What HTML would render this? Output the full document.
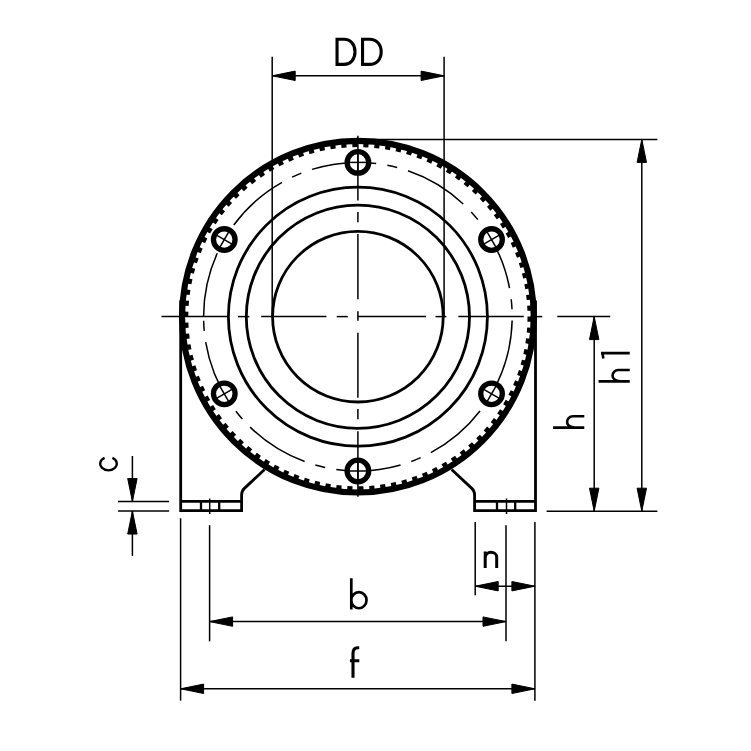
<!DOCTYPE html>
<html><head><meta charset="utf-8"><title>drawing</title>
<style>html,body{margin:0;padding:0;background:#fff;}svg{display:block;}</style>
</head><body>
<svg width="751" height="751" viewBox="0 0 751 751">
<rect width="751" height="751" fill="#fff"/>
<g stroke="#000" fill="#000">
<circle cx="357.9" cy="316.7" r="175.85" fill="none" stroke-width="6.1"/>
<path stroke="none" d="M352.26,143.39 L357.49,143.3 L357.5,147.1 L352.39,147.19ZM363.38,143.39 L368.6,143.63 L368.36,147.42 L363.26,147.18ZM374.47,144.09 L379.66,144.67 L379.19,148.44 L374.11,147.88ZM385.5,145.51 L390.64,146.42 L389.92,150.15 L384.89,149.26ZM396.41,147.63 L401.48,148.87 L400.53,152.54 L395.56,151.33ZM407.16,150.44 L412.15,152 L410.96,155.61 L406.08,154.09ZM417.71,153.94 L422.59,155.82 L421.17,159.34 L416.4,157.51ZM428.02,158.11 L432.76,160.29 L431.12,163.72 L426.48,161.58ZM438.03,162.93 L442.63,165.41 L440.77,168.73 L436.28,166.3ZM447.72,168.38 L452.15,171.15 L450.08,174.34 L445.75,171.63ZM457.04,174.44 L461.28,177.49 L459.01,180.54 L454.87,177.55ZM465.95,181.08 L469.99,184.4 L467.53,187.3 L463.58,184.05ZM474.42,188.28 L478.23,191.85 L475.6,194.59 L471.86,191.1ZM482.41,196.01 L485.99,199.82 L483.18,202.38 L479.68,198.66ZM489.88,204.24 L493.21,208.26 L490.25,210.64 L486.99,206.7ZM496.82,212.92 L499.88,217.16 L496.77,219.34 L493.77,215.2ZM503.18,222.04 L505.97,226.46 L502.72,228.43 L500,224.11ZM508.95,231.54 L511.44,236.13 L508.08,237.89 L505.64,233.41ZM514.09,241.39 L516.29,246.13 L512.82,247.68 L510.67,243.04ZM518.6,251.55 L520.49,256.43 L516.92,257.75 L515.08,252.98ZM522.44,261.98 L524.01,266.97 L520.37,268.06 L518.84,263.18ZM525.61,272.64 L526.86,277.71 L523.16,278.57 L521.93,273.6ZM528.09,283.47 L529.01,288.62 L525.26,289.23 L524.36,284.2ZM529.87,294.45 L530.46,299.64 L526.68,300.01 L526.1,294.93ZM530.94,305.51 L531.2,310.73 L527.4,310.86 L527.15,305.76ZM531.3,316.62 L531.22,321.84 L527.43,321.73 L527.5,316.62ZM530.95,327.73 L530.54,332.94 L526.75,332.58 L527.16,327.49ZM529.89,338.79 L529.14,343.97 L525.39,343.37 L526.12,338.31ZM528.12,349.77 L527.04,354.88 L523.34,354.04 L524.39,349.04ZM525.65,360.61 L524.25,365.64 L520.6,364.57 L521.97,359.64ZM522.49,371.26 L520.77,376.2 L517.2,374.89 L518.88,370.07ZM518.66,381.7 L516.63,386.51 L513.15,384.98 L515.13,380.27ZM514.16,391.86 L511.83,396.54 L508.45,394.79 L510.74,390.22ZM509.03,401.72 L506.4,406.24 L503.14,404.27 L505.71,399.86ZM503.27,411.23 L500.35,415.57 L497.23,413.4 L500.08,409.16ZM496.91,420.35 L493.73,424.49 L490.75,422.13 L493.87,418.08ZM489.99,429.04 L486.54,432.97 L483.72,430.42 L487.09,426.58ZM482.52,437.27 L478.83,440.97 L476.18,438.25 L479.79,434.63ZM474.54,445.01 L470.62,448.47 L468.15,445.58 L471.98,442.2ZM466.08,452.22 L461.94,455.42 L459.66,452.38 L463.71,449.25ZM457.17,458.87 L452.84,461.8 L450.76,458.62 L455,455.76ZM447.86,464.94 L443.35,467.58 L441.48,464.28 L445.89,461.69ZM438.18,470.4 L433.51,472.75 L431.85,469.33 L436.42,467.03ZM428.16,475.23 L423.35,477.27 L421.92,473.75 L426.62,471.75ZM417.86,479.4 L412.93,481.14 L411.73,477.53 L416.55,475.84ZM407.31,482.91 L402.28,484.32 L401.31,480.65 L406.23,479.27ZM396.56,485.73 L391.45,486.82 L390.72,483.09 L395.72,482.03ZM385.65,487.86 L380.48,488.62 L379.99,484.86 L385.05,484.11ZM374.63,489.29 L369.42,489.72 L369.17,485.93 L374.26,485.51ZM363.54,490.01 L358.31,490.1 L358.3,486.3 L363.41,486.21ZM352.42,490.01 L347.2,489.77 L347.44,485.98 L352.54,486.22ZM341.33,489.31 L336.14,488.73 L336.61,484.96 L341.69,485.52ZM330.3,487.89 L325.16,486.98 L325.88,483.25 L330.91,484.14ZM319.39,485.77 L314.32,484.53 L315.27,480.86 L320.24,482.07ZM308.64,482.96 L303.65,481.4 L304.84,477.79 L309.72,479.31ZM298.09,479.46 L293.21,477.58 L294.63,474.06 L299.4,475.89ZM287.78,475.29 L283.04,473.11 L284.68,469.68 L289.32,471.82ZM277.77,470.47 L273.17,467.99 L275.03,464.67 L279.52,467.1ZM268.08,465.02 L263.65,462.25 L265.72,459.06 L270.05,461.77ZM258.76,458.96 L254.52,455.91 L256.79,452.86 L260.93,455.85ZM249.85,452.32 L245.81,449 L248.27,446.1 L252.22,449.35ZM241.38,445.12 L237.57,441.55 L240.2,438.81 L243.94,442.3ZM233.39,437.39 L229.81,433.58 L232.62,431.02 L236.12,434.74ZM225.92,429.16 L222.59,425.14 L225.55,422.76 L228.81,426.7ZM218.98,420.48 L215.92,416.24 L219.03,414.06 L222.03,418.2ZM212.62,411.36 L209.83,406.94 L213.08,404.97 L215.8,409.29ZM206.85,401.86 L204.36,397.27 L207.72,395.51 L210.16,399.99ZM201.71,392.01 L199.51,387.27 L202.98,385.72 L205.13,390.36ZM197.2,381.85 L195.31,376.97 L198.88,375.65 L200.72,380.42ZM193.36,371.42 L191.79,366.43 L195.43,365.34 L196.96,370.22ZM190.19,360.76 L188.94,355.69 L192.64,354.83 L193.87,359.8ZM187.71,349.93 L186.79,344.78 L190.54,344.17 L191.44,349.2ZM185.93,338.95 L185.34,333.76 L189.12,333.39 L189.7,338.47ZM184.86,327.89 L184.6,322.67 L188.4,322.54 L188.65,327.64ZM184.5,316.78 L184.58,311.56 L188.37,311.67 L188.3,316.78ZM184.85,305.67 L185.26,300.46 L189.05,300.82 L188.64,305.91ZM185.91,294.61 L186.66,289.43 L190.41,290.03 L189.68,295.09ZM187.68,283.63 L188.76,278.52 L192.46,279.36 L191.41,284.36ZM190.15,272.79 L191.55,267.76 L195.2,268.83 L193.83,273.76ZM193.31,262.14 L195.03,257.2 L198.6,258.51 L196.92,263.33ZM197.14,251.7 L199.17,246.89 L202.65,248.42 L200.67,253.13ZM201.64,241.54 L203.97,236.86 L207.35,238.61 L205.06,243.18ZM206.77,231.68 L209.4,227.16 L212.66,229.13 L210.09,233.54ZM212.53,222.17 L215.45,217.83 L218.57,220 L215.72,224.24ZM218.89,213.05 L222.07,208.91 L225.05,211.27 L221.93,215.32ZM225.81,204.36 L229.26,200.43 L232.08,202.98 L228.71,206.82ZM233.28,196.13 L236.97,192.43 L239.62,195.15 L236.01,198.77ZM241.26,188.39 L245.18,184.93 L247.65,187.82 L243.82,191.2ZM249.72,181.18 L253.86,177.98 L256.14,181.02 L252.09,184.15ZM258.63,174.53 L262.96,171.6 L265.04,174.78 L260.8,177.64ZM267.94,168.46 L272.45,165.82 L274.32,169.12 L269.91,171.71ZM277.62,163 L282.29,160.65 L283.95,164.07 L279.38,166.37ZM287.64,158.17 L292.45,156.13 L293.88,159.65 L289.18,161.65ZM297.94,154 L302.87,152.26 L304.07,155.87 L299.25,157.56ZM308.49,150.49 L313.52,149.08 L314.49,152.75 L309.57,154.13ZM319.24,147.67 L324.35,146.58 L325.08,150.31 L320.08,151.37ZM330.15,145.54 L335.32,144.78 L335.81,148.54 L330.75,149.29ZM341.17,144.11 L346.38,143.68 L346.63,147.47 L341.54,147.89Z"/>
<circle cx="357.9" cy="316.7" r="129.5" fill="none" stroke-width="2.8"/>
<circle cx="357.9" cy="316.7" r="111.6" fill="none" stroke-width="2.8"/>
<circle cx="357.9" cy="316.7" r="85.3" fill="none" stroke-width="2.8"/>
<path fill="none" stroke-width="1.5" d="M203.6,316.16 A154.3,154.3 0 0 1 217.27,253.2 M222.3,243.07 A154.3,154.3 0 0 1 227.4,234.36 M233.78,225.03 A154.3,154.3 0 0 1 282.04,182.34 M292.08,177.14 A154.3,154.3 0 0 1 301.35,173.14 M312.02,169.38 A154.3,154.3 0 0 1 376.17,163.49 M387.34,165.23 A154.3,154.3 0 0 1 397.19,167.48 M408.01,170.76 A154.3,154.3 0 0 1 463.23,203.94 M471.21,211.96 A154.3,154.3 0 0 1 477.81,219.6 M484.6,228.64 A154.3,154.3 0 0 1 509.52,288.05 M511.21,299.23 A154.3,154.3 0 0 1 512.02,309.3 M512.15,320.6 A154.3,154.3 0 0 1 497.11,383.25 M491.86,393.27 A154.3,154.3 0 0 1 486.57,401.86 M479.99,411.06 A154.3,154.3 0 0 1 430.81,452.69 M420.66,457.66 A154.3,154.3 0 0 1 411.31,461.46 M400.56,464.99 A154.3,154.3 0 0 1 336.29,469.48 M325.16,467.49 A154.3,154.3 0 0 1 315.37,465.02 M304.62,461.51 A154.3,154.3 0 0 1 250.13,427.13 M242.34,418.94 A154.3,154.3 0 0 1 235.9,411.17 M229.31,401.98 A154.3,154.3 0 0 1 205.69,342.03 M204.25,330.82 A154.3,154.3 0 0 1 203.65,320.74"/>
<circle cx="357.9" cy="162.4" r="10.8" fill="#fff" stroke-width="5.3"/>
<line x1="357.9" y1="171.9" x2="357.9" y2="152.9" stroke-width="1.5"/>
<line x1="348.4" y1="162.4" x2="367.4" y2="162.4" stroke-width="1.5"/>
<circle cx="491.53" cy="239.55" r="10.8" fill="#fff" stroke-width="5.3"/>
<line x1="483.3" y1="244.3" x2="499.75" y2="234.8" stroke-width="1.5"/>
<line x1="486.78" y1="231.32" x2="496.28" y2="247.78" stroke-width="1.5"/>
<circle cx="491.53" cy="393.85" r="10.8" fill="#fff" stroke-width="5.3"/>
<line x1="483.3" y1="389.1" x2="499.75" y2="398.6" stroke-width="1.5"/>
<line x1="496.28" y1="385.62" x2="486.78" y2="402.08" stroke-width="1.5"/>
<circle cx="357.9" cy="471" r="10.8" fill="#fff" stroke-width="5.3"/>
<line x1="357.9" y1="461.5" x2="357.9" y2="480.5" stroke-width="1.5"/>
<line x1="367.4" y1="471" x2="348.4" y2="471" stroke-width="1.5"/>
<circle cx="224.27" cy="393.85" r="10.8" fill="#fff" stroke-width="5.3"/>
<line x1="232.5" y1="389.1" x2="216.05" y2="398.6" stroke-width="1.5"/>
<line x1="229.02" y1="402.08" x2="219.52" y2="385.62" stroke-width="1.5"/>
<circle cx="224.27" cy="239.55" r="10.8" fill="#fff" stroke-width="5.3"/>
<line x1="232.5" y1="244.3" x2="216.05" y2="234.8" stroke-width="1.5"/>
<line x1="219.52" y1="247.78" x2="229.02" y2="231.32" stroke-width="1.5"/>
<line x1="161.5" y1="316.6" x2="228" y2="316.6" stroke-width="1.5"/>
<line x1="238" y1="316.6" x2="249.3" y2="316.6" stroke-width="1.5"/>
<line x1="261.2" y1="316.6" x2="326.4" y2="316.6" stroke-width="1.5"/>
<line x1="336.7" y1="316.6" x2="347.8" y2="316.6" stroke-width="1.5"/>
<line x1="357.7" y1="316.6" x2="426" y2="316.6" stroke-width="1.5"/>
<line x1="435.5" y1="316.6" x2="446.4" y2="316.6" stroke-width="1.5"/>
<line x1="458.4" y1="316.6" x2="523.8" y2="316.6" stroke-width="1.5"/>
<line x1="530.5" y1="316.6" x2="542.3" y2="316.6" stroke-width="1.5"/>
<line x1="357.9" y1="135.7" x2="357.9" y2="200.4" stroke-width="1.5"/>
<line x1="357.9" y1="212" x2="357.9" y2="222.3" stroke-width="1.5"/>
<line x1="357.9" y1="233.9" x2="357.9" y2="299.2" stroke-width="1.5"/>
<line x1="357.9" y1="311.2" x2="357.9" y2="320.7" stroke-width="1.5"/>
<line x1="357.9" y1="332.8" x2="357.9" y2="397.8" stroke-width="1.5"/>
<line x1="357.9" y1="409" x2="357.9" y2="419.3" stroke-width="1.5"/>
<line x1="357.9" y1="431.3" x2="357.9" y2="496.8" stroke-width="1.5"/>
<path fill="none" stroke-width="2.8" stroke-linejoin="miter" d="M180.7,300.5 V510.6 H241.6 V495 Q241.6,491 244.4,488.4 L264.6,469.4"/>
<line x1="180.7" y1="501.3" x2="241.6" y2="501.3" stroke-width="2.8"/>
<line x1="201" y1="501.3" x2="201" y2="510.6" stroke-width="2.3"/>
<line x1="219.2" y1="501.3" x2="219.2" y2="510.6" stroke-width="2.3"/>
<line x1="209.7" y1="498.5" x2="209.7" y2="514" stroke-width="1.5"/>
<path fill="none" stroke-width="2.8" stroke-linejoin="miter" d="M535.5,300.5 V510.6 H474.6 V495 Q474.6,491 471.8,488.4 L451.6,469.4"/>
<line x1="535.5" y1="501.3" x2="474.6" y2="501.3" stroke-width="2.8"/>
<line x1="515.2" y1="501.3" x2="515.2" y2="510.6" stroke-width="2.3"/>
<line x1="497" y1="501.3" x2="497" y2="510.6" stroke-width="2.3"/>
<line x1="506.5" y1="498.5" x2="506.5" y2="514" stroke-width="1.5"/>
<line x1="272.2" y1="56.8" x2="272.2" y2="316.6" stroke-width="1.5"/>
<line x1="444.1" y1="56.8" x2="444.1" y2="316.6" stroke-width="1.5"/>
<line x1="272.2" y1="75.8" x2="444.1" y2="75.8" stroke-width="1.5"/>
<polygon points="272.2,75.8 295.2,71.1 295.2,80.5"/>
<polygon points="444.1,75.8 421.1,80.5 421.1,71.1"/>
<line x1="358" y1="139.4" x2="657.4" y2="139.4" stroke-width="1.5"/>
<line x1="546.6" y1="511.2" x2="657.4" y2="511.2" stroke-width="1.5"/>
<line x1="641.8" y1="139.4" x2="641.8" y2="511.2" stroke-width="1.5"/>
<polygon points="641.8,139.4 646.5,162.4 637.1,162.4"/>
<polygon points="641.8,511.2 637.1,488.2 646.5,488.2"/>
<line x1="557.3" y1="316.6" x2="610.2" y2="316.6" stroke-width="1.5"/>
<line x1="594.2" y1="316.6" x2="594.2" y2="511.2" stroke-width="1.5"/>
<polygon points="594.2,316.6 598.9,339.6 589.5,339.6"/>
<polygon points="594.2,511.2 589.5,488.2 598.9,488.2"/>
<line x1="118" y1="501.5" x2="169.1" y2="501.5" stroke-width="1.5"/>
<line x1="118" y1="511.05" x2="169.1" y2="511.05" stroke-width="1.5"/>
<line x1="132.4" y1="456" x2="132.4" y2="501.5" stroke-width="1.5"/>
<line x1="132.4" y1="511.05" x2="132.4" y2="555.9" stroke-width="1.5"/>
<polygon points="132.4,501.5 127.7,478.5 137.1,478.5"/>
<polygon points="132.4,511.05 137.1,534.05 127.7,534.05"/>
<line x1="475.2" y1="522" x2="475.2" y2="595.2" stroke-width="1.5"/>
<line x1="534.9" y1="522" x2="534.9" y2="700.7" stroke-width="1.5"/>
<line x1="475.2" y1="586.2" x2="534.9" y2="586.2" stroke-width="1.5"/>
<polygon points="475.2,586.2 498.2,581.5 498.2,590.9"/>
<polygon points="534.9,586.2 511.9,590.9 511.9,581.5"/>
<line x1="209.6" y1="525.2" x2="209.6" y2="641.3" stroke-width="1.5"/>
<line x1="506" y1="525.2" x2="506" y2="641.3" stroke-width="1.5"/>
<line x1="209.6" y1="621.6" x2="506" y2="621.6" stroke-width="1.5"/>
<polygon points="209.6,621.6 232.6,616.9 232.6,626.3"/>
<polygon points="506,621.6 483,626.3 483,616.9"/>
<line x1="180.6" y1="518.3" x2="180.6" y2="700.6" stroke-width="1.5"/>
<line x1="180.6" y1="688.8" x2="534.9" y2="688.8" stroke-width="1.5"/>
<polygon points="180.6,688.8 203.6,684.1 203.6,693.5"/>
<polygon points="534.9,688.8 511.9,693.5 511.9,684.1"/>
<path fill="none" stroke-width="3.1" stroke-linecap="butt" d="M337.05,39.3 H344.05 C350.62,39.3 355,44.32 355,51.85 C355,59.38 350.62,64.4 344.05,64.4 H337.05 Z"/>
<path fill="none" stroke-width="3.1" stroke-linecap="butt" d="M362.55,39.3 H369.55 C376.54,39.3 381.2,44.32 381.2,51.85 C381.2,59.38 376.54,64.4 369.55,64.4 H362.55 Z"/>
<path fill="none" stroke-width="2.6" stroke-linecap="butt" d="M0,-31.2 V0 M0,-9.5 C0,-14.5 2.8,-17.2 5.7,-17.2 C8.8,-17.2 11.4,-14.5 11.4,-11.5 V0" transform="translate(629.75,381.35) rotate(-90)"/>
<path fill="none" stroke-width="2.6" stroke-linecap="butt" d="M0,0 V-28.75 M1.2,-27.45 L-5.4,-26.4" transform="translate(629.75,381.35) rotate(-90) translate(28.25,0)"/>
<path fill="none" stroke-width="2.6" stroke-linecap="butt" d="M0,-31.2 V0 M0,-9.5 C0,-14.5 2.8,-17.2 5.7,-17.2 C8.8,-17.2 11.4,-14.5 11.4,-11.5 V0" transform="translate(584.3,427.6) rotate(-90)"/>
<path fill="none" stroke-width="2.3" stroke-linecap="butt" d="M13.53,-13.4 A6.6,8.3 0 1 0 13.53,-5.6" transform="translate(118,471.4) rotate(-90)"/>
<path fill="none" stroke-width="3" stroke-linecap="butt" d="M0,-16.6 V0 M0,-9.8 C0,-13.9 2.8,-15.9 5.7,-15.9 C8.8,-15.9 11.5,-13.9 11.5,-11 V0" transform="translate(485.2,568.1)"/>
<path fill="none" stroke-width="2.7" stroke-linecap="butt" d="M0,-31.2 V0 M0,-9.3 A7.6,8.05 0 1 1 15.2,-9.3 A7.6,8.05 0 1 1 0,-9.3" transform="translate(351.3,609.5)"/>
<path fill="none" stroke-width="3.1" stroke-linecap="butt" d="M0,0 V-24.5 C0,-28.2 1.8,-30 4.8,-30 H6.2 M-3,-16.9 H6.3" transform="translate(353,677.7)"/>
</g>
</svg>
</body></html>
